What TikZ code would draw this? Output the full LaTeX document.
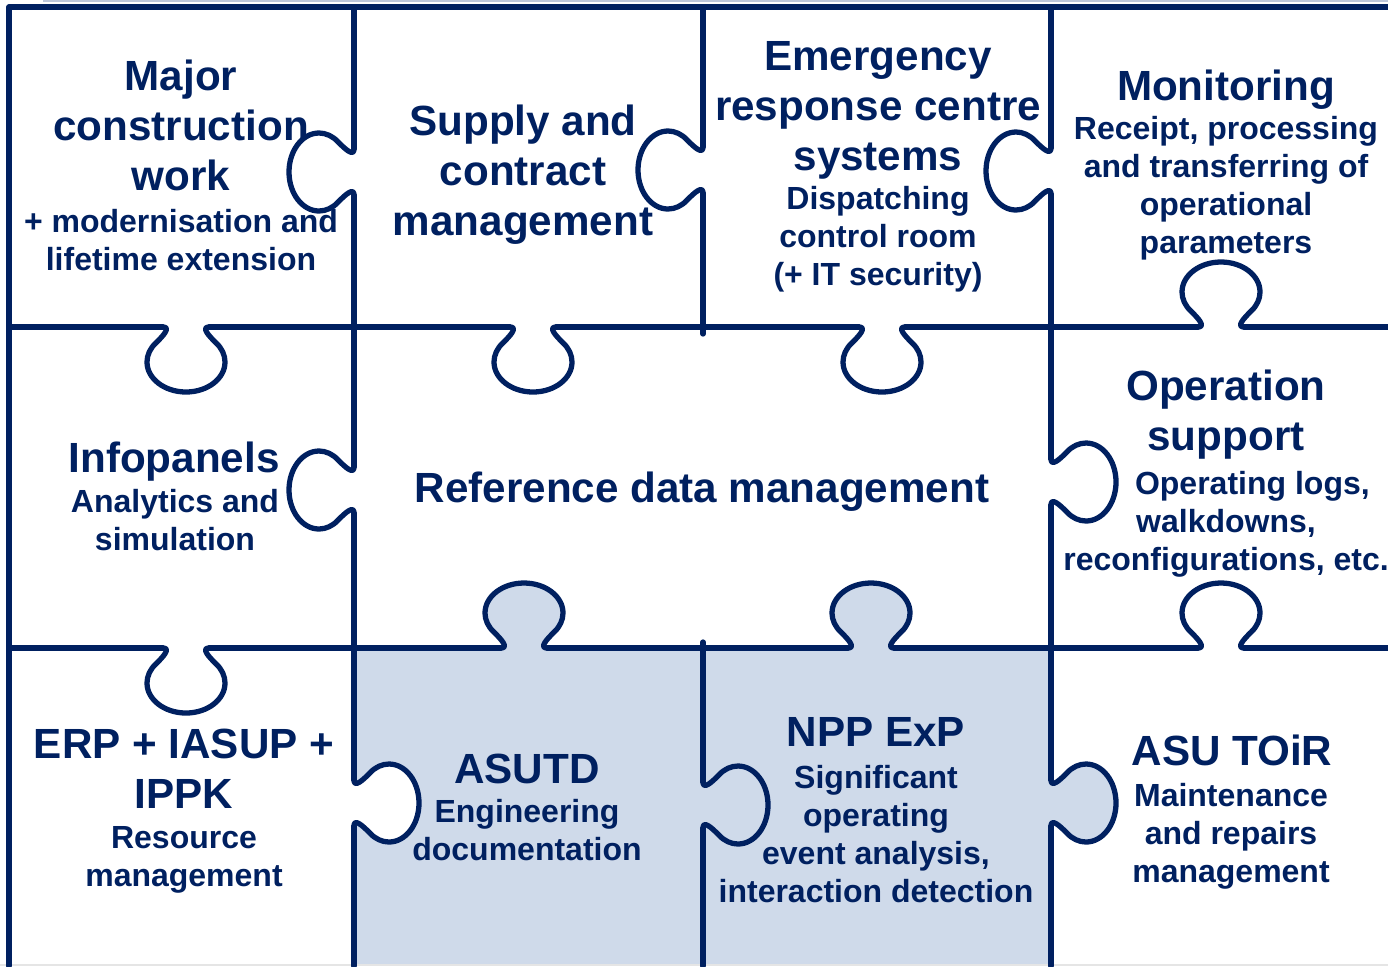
\documentclass[tikz,border=0pt]{standalone}
\usepackage{fontspec}
\setmainfont{Liberation Sans}
\usetikzlibrary{positioning}
\definecolor{puzzlenavy}{HTML}{002060}
\definecolor{puzzleblue}{RGB}{207,218,234}
\tikzset{
  seam/.style={draw=puzzlenavy, line width=1.5pt, line cap=round, line join=round},
  piecetitle/.style={font=\fontsize{12}{14.2}\selectfont\bfseries, text=puzzlenavy, align=center, inner sep=0pt, anchor=base},
  piecetext/.style={font=\fontsize{9.1}{10.8}\selectfont\bfseries, text=puzzlenavy, align=center, inner sep=0pt, anchor=base},
  % tab of a piece, bulging towards local +y
  knob/.pic={
    \draw[seam] (-23,0) .. controls (-15,0) and (-22.4,8.5) .. (-30.3,16.1)
      .. controls (-35.9,21.4) and (-39,28.1) .. (-39,35)
      .. controls (-39,51.6) and (-21.5,65) .. (0,65)
      .. controls (21.5,65) and (39,51.6) .. (39,35)
      .. controls (39,28.1) and (35.9,21.4) .. (30.3,16.1)
      .. controls (22.4,8.5) and (15,0) .. (23,0);
  },
  knob patch/.pic={
    \path[pic actions] (-23,0) .. controls (-15,0) and (-22.4,8.5) .. (-30.3,16.1)
      .. controls (-35.9,21.4) and (-39,28.1) .. (-39,35)
      .. controls (-39,51.6) and (-21.5,65) .. (0,65)
      .. controls (21.5,65) and (39,51.6) .. (39,35)
      .. controls (39,28.1) and (35.9,21.4) .. (30.3,16.1)
      .. controls (22.4,8.5) and (15,0) .. (23,0) -- cycle;
  }
}

\begin{document}
\begin{tikzpicture}[x=0.01cm, y=-0.01cm]

  \useasboundingbox (0,0) rectangle (1388,966);

  % shaded pieces
  \fill[puzzleblue] (354,648) rectangle (1051,966);
  \pic[rotate=180, fill=puzzleblue] at (524,648) {knob patch};
  \pic[rotate=180, fill=puzzleblue] at (871,648) {knob patch};
  \pic[rotate=90, fill=puzzleblue] at (1051,803) {knob patch};
  \pic[rotate=90, fill=white] at (354,803) {knob patch};

  % frame
  \draw[draw=puzzleblue!70!puzzlenavy!60, line width=0.6pt] (43,1) -- (1388,1);
  \draw[draw=black!10, line width=0.8pt] (0,965) -- (1388,965);
  \draw[seam] (1388,7) -- (9,7) -- (9,966);

  % horizontal seams
  \draw[seam] (9,327) -- (163,327) (209,327) -- (510,327) (556,327) -- (859,327)
    (905,327) -- (1198,327) (1244,327) -- (1388,327);
  \draw[seam] (9,648) -- (163,648) (209,648) -- (501,648) (547,648) -- (848,648)
    (894,648) -- (1198,648) (1244,648) -- (1388,648);

  % vertical seams
  \draw[seam] (354,7) -- (354,149) (354,195) -- (354,467) (354,513) -- (354,780)
    (354,826) -- (354,966);
  \draw[seam] (703,7) -- (703,147) (703,193) -- (703,334);
  \draw[seam] (703,642) -- (703,782) (703,828) -- (703,966);
  \draw[seam] (1051,7) -- (1051,148) (1051,194) -- (1051,459) (1051,505) -- (1051,780)
    (1051,826) -- (1051,966);

  % tabs: x/y/turn (0 down, 180 up, 90 right, -90 left)
  \foreach \kx/\ky/\kr in {186/327/0, 533/327/0, 882/327/0, 1221/327/180,
      186/648/0, 524/648/180, 871/648/180, 1221/648/180,
      354/172/-90, 354/490/-90, 354/803/90,
      703/170/-90, 703/805/90,
      1051/171/-90, 1051/482/90, 1051/803/90}
    \pic[rotate=\kr] at (\kx,\ky) {knob};

  % top row (base = last line)
  \node[piecetitle] (major) at (181,190) {Major\\construction\\work};
  \node[piecetext] (majordetail) at (181,270) {+ modernisation and\\lifetime extension};
  \node[piecetitle] (supply) at (523,235) {Supply and\\contract\\management};
  \node[piecetitle] (emergency) at (878,170) {Emergency\\response centre\\systems};
  \node[piecetext] (emergencydetail) at (878,285) {Dispatching\\control room\\(+ IT security)};
  \node[piecetitle] (monitoring) at (1226,100) {Monitoring};
  \node[piecetext] (monitoringdetail) at (1226,253) {Receipt, processing\\and transferring of\\operational\\parameters};

  % middle row
  \node[piecetitle] (infopanels) at (174,472) {Infopanels};
  \node[piecetext] (infopanelsdetail) at (175,550) {Analytics and\\simulation};
  \node[piecetitle] (refdata) at (702,502) {Reference data management};
  \node[piecetitle] (operation) at (1226,450) {Operation\\support};
  \node[piecetext] (operationdetail) at (1226,570) {\hspace*{15pt}Operating logs,\\walkdowns,\\reconfigurations, etc.};

  % bottom row
  \node[piecetitle] (erp) at (184,808) {ERP + IASUP +\\IPPK};
  \node[piecetext] (erpdetail) at (184,886) {Resource\\management};
  \node[piecetitle] (asutd) at (527,783) {ASUTD};
  \node[piecetext] (asutddetail) at (527,860) {Engineering\\documentation};
  \node[piecetitle] (nppexp) at (876,746) {NPP ExP};
  \node[piecetext] (nppexpdetail) at (876,902) {Significant\\operating\\event analysis,\\interaction detection};
  \node[piecetitle] (asutoir) at (1232,765) {ASU TOiR};
  \node[piecetext] (asutoirdetail) at (1231,882) {Maintenance\\and repairs\\management};

\end{tikzpicture}
\end{document}
